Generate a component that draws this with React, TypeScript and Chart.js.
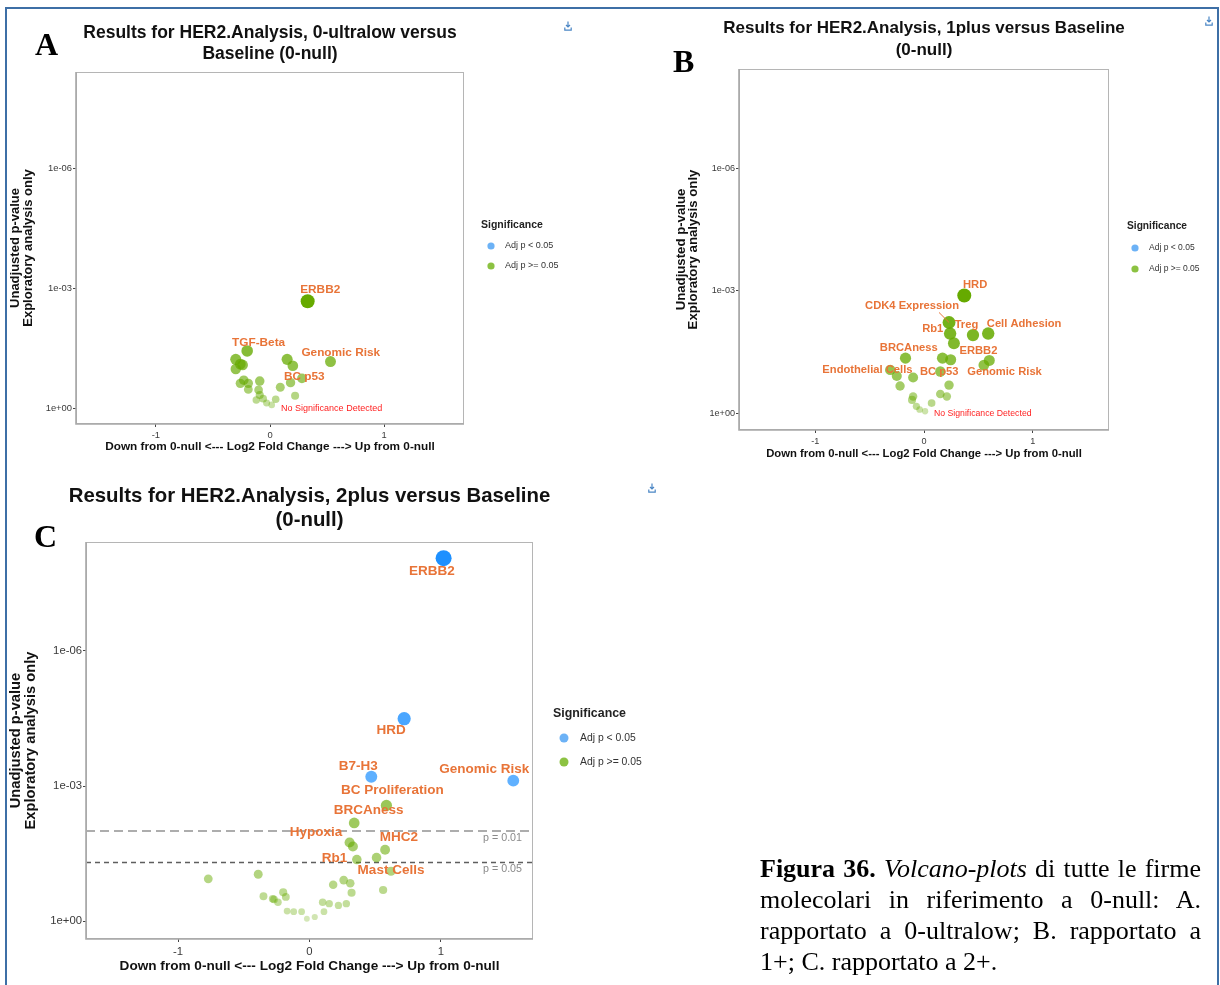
import React, { useEffect, useRef } from 'react';
import { Chart, registerables } from 'chart.js';

Chart.register(...registerables);

const SANS = '"Liberation Sans", Arial, Helvetica, sans-serif';
const SERIF = '"Liberation Serif", "Times New Roman", Times, serif';

// ---------- shared axis content ----------
const xLimits = [-1.7, 1.7];
const pLimits = [2.5, 3.8e-9]; // bottom (least significant) -> top
const xTickValues = [-1, 0, 1];
const xTickLabels = ['-1', '0', '1'];
const yTickValues = [1, 1e-3, 1e-6];
const yTickLabels = ['1e+00', '1e-03', '1e-06'];
const xAxisTitle = 'Down from 0-null <--- Log2 Fold Change ---> Up from 0-null';
const yAxisTitle = ['Unadjusted p-value', 'Exploratory analysis only'];
const legendTitle = 'Significance';
const legendLabels = ['Adj p < 0.05', 'Adj p >= 0.05'];
const noSigText = 'No Significance Detected';
const thresholdP = [0.01, 0.05];
const thresholdLabels = ['p = 0.01', 'p = 0.05'];

// ---------- Panel A : 0-ultralow vs 0-null ----------
const aTitle = ['Results for HER2.Analysis, 0-ultralow versus', 'Baseline (0-null)'];
const aLfc = [0.33, -0.2, -0.3, -0.26, -0.3, -0.24, 0.15, 0.2, 0.53, 0.28, 0.18, 0.09, 0.22, -0.23, -0.19, -0.26, -0.09, -0.19, -0.1, -0.09, -0.06, -0.12, -0.03, 0.015, 0.05];
const aP = [2.1e-3, 0.037, 0.06, 0.079, 0.105, 0.083, 0.06, 0.087, 0.068, 0.18, 0.23, 0.3, 0.49, 0.2, 0.24, 0.24, 0.21, 0.34, 0.35, 0.47, 0.58, 0.63, 0.74, 0.83, 0.6];
const aSig = [0, 0, 0, 0, 0, 0, 0, 0, 0, 0, 0, 0, 0, 0, 0, 0, 0, 0, 0, 0, 0, 0, 0, 0, 0];
const aLabelText = ['ERBB2', 'TGF-Beta', 'Genomic Risk', 'BC p53'];
const aLabelLfc = [0.44, -0.1, 0.62, 0.3];
const aLabelP = [1.1e-3, 0.0224, 0.04, 0.166];
const aNoSigAt = [0.54, 1.0];

// ---------- Panel B : 1plus vs 0-null ----------
const bTitle = ['Results for HER2.Analysis, 1plus versus Baseline', '(0-null)'];
const bLfc = [0.37, 0.23, 0.24, 0.275, 0.45, 0.59, 0.6, 0.55, -0.17, 0.17, 0.245, 0.15, -0.31, -0.25, -0.1, -0.22, 0.23, 0.15, 0.21, -0.1, -0.11, -0.07, 0.01, 0.07, -0.04];
const bP = [1.3e-3, 5.9e-3, 0.011, 0.019, 0.012, 0.011, 0.05, 0.065, 0.044, 0.044, 0.048, 0.093, 0.085, 0.12, 0.13, 0.21, 0.2, 0.33, 0.38, 0.38, 0.46, 0.66, 0.87, 0.55, 0.79];
const bSig = [0, 0, 0, 0, 0, 0, 0, 0, 0, 0, 0, 0, 0, 0, 0, 0, 0, 0, 0, 0, 0, 0, 0, 0, 0];
const bLabelText = ['HRD', 'CDK4 Expression', 'Rb1', 'Treg', 'Cell Adhesion', 'BRCAness', 'ERBB2', 'Endothelial Cells', 'BC p53', 'Genomic Risk'];
const bLabelLfc = [0.47, -0.11, 0.08, 0.39, 0.92, -0.14, 0.5, -0.52, 0.14, 0.74];
const bLabelP = [7.1e-4, 2.3e-3, 8.5e-3, 6.8e-3, 6.5e-3, 0.0245, 0.029, 0.085, 0.095, 0.095];
const bLeaders = [[1, 1]]; // [label index, point index]
const bNoSigAt = [0.54, 1.0];

// ---------- Panel C : 2plus vs 0-null ----------
const cTitle = ['Results for HER2.Analysis, 2plus versus Baseline', '(0-null)'];
const cLfc = [1.02, 0.72, 0.47, 1.55, 0.585, 0.34, 0.305, 0.33, 0.575, 0.51, 0.36, 0.62, -0.77, -0.39, 0.18, 0.26, 0.31, 0.32, 0.56, -0.35, -0.28, -0.27, -0.24, -0.2, -0.18, -0.17, -0.12, -0.06, -0.02, 0.04, 0.11, 0.1, 0.15, 0.22, 0.28];
const cP = [8.7e-9, 3.2e-5, 6.2e-4, 7.6e-4, 2.7e-3, 6.6e-3, 0.018, 0.022, 0.026, 0.039, 0.043, 0.078, 0.115, 0.091, 0.155, 0.123, 0.145, 0.234, 0.204, 0.28, 0.32, 0.33, 0.38, 0.23, 0.29, 0.6, 0.62, 0.62, 0.89, 0.81, 0.62, 0.38, 0.41, 0.45, 0.41];
const cSig = [1, 1, 1, 1, 0, 0, 0, 0, 0, 0, 0, 0, 0, 0, 0, 0, 0, 0, 0, 0, 0, 0, 0, 0, 0, 0, 0, 0, 0, 0, 0, 0, 0, 0, 0];
const cLabelText = ['ERBB2', 'HRD', 'B7-H3', 'Genomic Risk', 'BC Proliferation', 'BRCAness', 'Hypoxia', 'MHC2', 'Rb1', 'Mast Cells'];
const cLabelLfc = [0.93, 0.62, 0.37, 1.33, 0.63, 0.45, 0.05, 0.68, 0.19, 0.62];
const cLabelP = [1.66e-8, 5.9e-5, 3.7e-4, 4.3e-4, 1.26e-3, 3.5e-3, 0.0107, 0.0138, 0.041, 0.074];

// ---------- styling / layout (page pixel coordinates) ----------
const GREEN = [102, 170, 0];
const BLUE = [30, 144, 255];
const LEGEND_BLUE = 'rgb(108,178,246)';
const LEGEND_GREEN = 'rgb(140,194,66)';
const LABEL_ORANGE = '#e87438';

type Layout = {
  box: { x: number; y: number; w: number; h: number };
  plot: { l: number; t: number; r: number; b: number };
  title: { size: number; y: number[] };
  yTitle: { size: number; lh: number; x: number };
  xTitle: { size: number; y: number };
  tickSize: number;
  labelSize: number;
  noSigSize: number;
  legend: { x: number; y: number; titleSize: number; dotX: number; dotY: number[]; r: number; textX: number; textSize: number };
  rMax: number;
  thrSize: number;
};

const layoutA: Layout = {
  box: { x: 0, y: 0, w: 600, h: 470 },
  plot: { l: 76, t: 72, r: 464, b: 424 },
  title: { size: 17.5, y: [33, 54] },
  yTitle: { size: 13, lh: 13, x: 15 },
  xTitle: { size: 11.8, y: 447 },
  tickSize: 9.4,
  labelSize: 11.8,
  noSigSize: 9,
  legend: { x: 481, y: 225, titleSize: 10.5, dotX: 491, dotY: [246, 266], r: 3.6, textX: 505, textSize: 9 },
  rMax: 7,
  thrSize: 10,
};

const layoutB: Layout = {
  box: { x: 600, y: 0, w: 620, h: 470 },
  plot: { l: 739, t: 69, r: 1109, b: 430 },
  title: { size: 17, y: [28, 50] },
  yTitle: { size: 13.2, lh: 12, x: 681 },
  xTitle: { size: 11.3, y: 454 },
  tickSize: 9.1,
  labelSize: 11.2,
  noSigSize: 8.7,
  legend: { x: 1127, y: 226, titleSize: 10.2, dotX: 1135, dotY: [248, 269], r: 3.6, textX: 1149, textSize: 8.5 },
  rMax: 7,
  thrSize: 10,
};

const layoutC: Layout = {
  box: { x: 0, y: 470, w: 700, h: 515 },
  plot: { l: 86, t: 542, r: 533, b: 939 },
  title: { size: 20.4, y: [496, 520] },
  yTitle: { size: 14.7, lh: 15.5, x: 15.8 },
  xTitle: { size: 13.6, y: 966 },
  tickSize: 11.3,
  labelSize: 13.5,
  noSigSize: 10,
  legend: { x: 553, y: 714, titleSize: 12.4, dotX: 564, dotY: [738, 762], r: 4.5, textX: 580, textSize: 10.4 },
  rMax: 8,
  thrSize: 10.7,
};

type PanelProps = {
  L: Layout;
  title: string[];
  lfc: number[];
  p: number[];
  sig: number[];
  labelText: string[];
  labelLfc: number[];
  labelP: number[];
  leaders?: number[][];
  noSigAt?: number[];
  thresholds?: boolean;
};

function rgba(c: number[], a: number) {
  return `rgba(${c[0]},${c[1]},${c[2]},${a.toFixed(3)})`;
}

function Volcano(props: PanelProps) {
  const ref = useRef<HTMLCanvasElement>(null);
  const { L } = props;

  useEffect(() => {
    const canvas = ref.current;
    if (!canvas) return;
    const { box, plot } = L;

    const yLH = L.yTitle.lh;
    const yScaleLeft = L.yTitle.x - yLH / 2;
    const padLeft = yScaleLeft - box.x;
    const yW = plot.l - yScaleLeft;
    const xLH = L.xTitle.size * 1.2;
    const xScaleBottom = L.xTitle.y + xLH / 2;
    const xH = xScaleBottom - plot.b;
    const padBottom = box.y + box.h - xScaleBottom;
    const padTop = plot.t - box.y;
    const padRight = box.x + box.w - plot.r;

    const maxS = Math.max(...props.p.map((v) => -Math.log10(v)));
    const frac = (pv: number) => Math.sqrt(Math.max(0, -Math.log10(pv)) / maxS);
    const radius = (pv: number) => 2.5 + (L.rMax - 2.5) * frac(pv);
    const alpha = (pv: number) => 0.22 + 0.78 * frac(pv);

    const greenPts: { x: number; y: number }[] = [];
    const bluePts: { x: number; y: number }[] = [];
    props.lfc.forEach((x, i) => {
      (props.sig[i] ? bluePts : greenPts).push({ x, y: props.p[i] });
    });

    const ds = (pts: { x: number; y: number }[], col: number[], label: string) => ({
      label,
      data: pts,
      pointRadius: (c: any) => radius(c.raw ? c.raw.y : 1),
      pointBackgroundColor: (c: any) => rgba(col, alpha(c.raw ? c.raw.y : 1)),
      pointBorderWidth: 0,
      pointBorderColor: 'rgba(0,0,0,0)',
      pointHoverRadius: 0,
    });

    const fnt = (size: number, bold = false) => `${bold ? 'bold ' : ''}${size}px ${SANS}`;
    const lx = (px: number) => px - box.x;
    const ly = (py: number) => py - box.y;

    const decor = {
      id: 'decor',
      beforeDatasetsDraw(chart: any) {
        if (!props.thresholds) return;
        const ctx = chart.ctx;
        const a = chart.chartArea;
        const ys = chart.scales.y;
        thresholdP.forEach((tp, i) => {
          const y = ys.getPixelForValue(tp);
          ctx.save();
          ctx.beginPath();
          ctx.setLineDash(i === 0 ? [9, 5] : [5, 4]);
          ctx.strokeStyle = i === 0 ? '#adadad' : '#5e5e5e';
          ctx.lineWidth = i === 0 ? 2 : 1.5;
          ctx.moveTo(a.left, y);
          ctx.lineTo(a.right, y);
          ctx.stroke();
          ctx.setLineDash([]);
          ctx.font = fnt(L.thrSize);
          ctx.fillStyle = '#8a8a8a';
          ctx.textAlign = 'right';
          ctx.textBaseline = 'middle';
          ctx.fillText(thresholdLabels[i], a.right - 11, y + 7);
          ctx.restore();
        });
      },
      afterDatasetsDraw(chart: any) {
        const ctx = chart.ctx;
        const a = chart.chartArea;
        const xs = chart.scales.x;
        const ys = chart.scales.y;
        ctx.save();
        ctx.font = fnt(L.labelSize, true);
        ctx.fillStyle = LABEL_ORANGE;
        ctx.textAlign = 'center';
        ctx.textBaseline = 'middle';
        props.labelText.forEach((t, i) => {
          ctx.fillText(t, xs.getPixelForValue(props.labelLfc[i]), ys.getPixelForValue(props.labelP[i]));
        });
        (props.leaders || []).forEach(([li, pi]) => {
          const tx = xs.getPixelForValue(props.labelLfc[li]);
          const ty = ys.getPixelForValue(props.labelP[li]);
          const w = ctx.measureText(props.labelText[li]).width;
          const sx = tx + w / 2 - 20;
          const sy = ty + L.labelSize * 0.6;
          const px = xs.getPixelForValue(props.lfc[pi]);
          const py = ys.getPixelForValue(props.p[pi]);
          ctx.beginPath();
          ctx.strokeStyle = LABEL_ORANGE;
          ctx.lineWidth = 1;
          ctx.moveTo(sx, sy);
          ctx.lineTo(px, py);
          ctx.stroke();
        });
        if (props.noSigAt) {
          ctx.font = fnt(L.noSigSize);
          ctx.fillStyle = '#ff1f1f';
          ctx.fillText(noSigText, xs.getPixelForValue(props.noSigAt[0]), ys.getPixelForValue(props.noSigAt[1]));
        }
        ctx.strokeStyle = '#b5b5b5';
        ctx.lineWidth = 1;
        ctx.strokeRect(a.left + 0.5, a.top + 0.5, a.right - a.left - 1, a.bottom - a.top - 1);
        ctx.strokeStyle = '#a8a8a8';
        ctx.lineWidth = 1.6;
        ctx.beginPath();
        ctx.moveTo(a.left, a.top);
        ctx.lineTo(a.left, a.bottom);
        ctx.lineTo(a.right, a.bottom);
        ctx.stroke();
        ctx.restore();
      },
      afterDraw(chart: any) {
        const ctx = chart.ctx;
        const a = chart.chartArea;
        ctx.save();
        ctx.font = fnt(L.title.size, true);
        ctx.fillStyle = '#111';
        ctx.textAlign = 'center';
        ctx.textBaseline = 'middle';
        const cx = (a.left + a.right) / 2;
        props.title.forEach((t, i) => ctx.fillText(t, cx, ly(L.title.y[i])));
        const lg = L.legend;
        ctx.textAlign = 'left';
        ctx.font = fnt(lg.titleSize, true);
        ctx.fillStyle = '#222';
        ctx.fillText(legendTitle, lx(lg.x), ly(lg.y));
        [LEGEND_BLUE, LEGEND_GREEN].forEach((col, i) => {
          ctx.beginPath();
          ctx.fillStyle = col;
          ctx.arc(lx(lg.dotX), ly(lg.dotY[i]), lg.r, 0, Math.PI * 2);
          ctx.fill();
          ctx.font = fnt(lg.textSize);
          ctx.fillStyle = '#333';
          ctx.fillText(legendLabels[i], lx(lg.textX), ly(lg.dotY[i]));
        });
        ctx.restore();
      },
    };

    const tickLookupX = (v: any) => {
      const i = xTickValues.indexOf(Number(v));
      return i >= 0 ? xTickLabels[i] : '';
    };
    const tickLookupY = (v: any) => {
      const i = yTickValues.findIndex((t) => Math.abs(Math.log10(t) - Math.log10(Number(v))) < 1e-6);
      return i >= 0 ? yTickLabels[i] : '';
    };

    const chart = new Chart(canvas, {
      type: 'scatter',
      data: {
        datasets: [ds(greenPts, GREEN, legendLabels[1]), ds(bluePts, BLUE, legendLabels[0])] as any,
      },
      options: {
        animation: false,
        responsive: false,
        maintainAspectRatio: false,
        devicePixelRatio: 1,
        events: [],
        layout: { padding: { left: padLeft, right: padRight, top: padTop, bottom: padBottom } },
        plugins: {
          legend: { display: false },
          title: { display: false },
          tooltip: { enabled: false },
        },
        scales: {
          x: {
            type: 'linear',
            position: 'bottom',
            min: xLimits[0],
            max: xLimits[1],
            afterBuildTicks: (s: any) => {
              s.ticks = xTickValues.map((v) => ({ value: v }));
            },
            afterFit: (s: any) => {
              s.height = xH;
            },
            ticks: {
              callback: tickLookupX,
              font: { family: SANS, size: L.tickSize },
              color: '#3a3a3a',
              padding: 3,
              maxRotation: 0,
              autoSkip: false,
            },
            grid: { display: true, drawOnChartArea: false, drawTicks: true, tickLength: 3, tickColor: '#444', color: '#444' },
            border: { display: false },
            title: {
              display: true,
              text: xAxisTitle,
              color: '#111',
              padding: 0,
              font: { family: SANS, size: L.xTitle.size, weight: 'bold', lineHeight: 1.2 },
            },
          },
          y: {
            type: 'logarithmic',
            position: 'left',
            reverse: true,
            min: pLimits[1],
            max: pLimits[0],
            afterBuildTicks: (s: any) => {
              s.ticks = yTickValues.map((v) => ({ value: v }));
            },
            afterFit: (s: any) => {
              s.width = yW;
            },
            ticks: {
              callback: tickLookupY,
              font: { family: SANS, size: L.tickSize },
              color: '#3a3a3a',
              padding: 1,
              autoSkip: false,
            },
            grid: { display: true, drawOnChartArea: false, drawTicks: true, tickLength: 3, tickColor: '#444', color: '#444' },
            border: { display: false },
            title: {
              display: true,
              text: yAxisTitle,
              color: '#111',
              padding: 0,
              font: { family: SANS, size: L.yTitle.size, weight: 'bold', lineHeight: yLH / L.yTitle.size },
            },
          },
        },
      } as any,
      plugins: [decor],
    });
    return () => chart.destroy();
  }, []);

  return (
    <canvas
      ref={ref}
      width={L.box.w}
      height={L.box.h}
      style={{ position: 'absolute', left: L.box.x, top: L.box.y, width: L.box.w, height: L.box.h }}
    />
  );
}

function DownloadIcon({ left, top }: { left: number; top: number }) {
  return (
    <svg width="8" height="10" viewBox="0 0 8 10" style={{ position: 'absolute', left, top }}>
      <path d="M4 0.5 V6 M2 4 L4 6 L6 4" stroke="#4a86c5" strokeWidth="1.2" fill="none" />
      <path d="M0.8 6.5 V9.2 H7.2 V6.5" stroke="#4a86c5" strokeWidth="1.2" fill="none" />
    </svg>
  );
}

const letterStyle = (left: number, top: number): React.CSSProperties => ({
  position: 'absolute',
  left,
  top,
  fontFamily: SERIF,
  fontWeight: 'bold',
  fontSize: 32,
  lineHeight: '32px',
  color: '#000',
});

export default function App() {
  return (
    <div style={{ position: 'fixed', left: 0, top: 0, width: 1220, height: 985, overflow: 'hidden', background: '#fff' }}>
      <Volcano L={layoutA} title={aTitle} lfc={aLfc} p={aP} sig={aSig} labelText={aLabelText} labelLfc={aLabelLfc} labelP={aLabelP} noSigAt={aNoSigAt} />
      <Volcano L={layoutB} title={bTitle} lfc={bLfc} p={bP} sig={bSig} labelText={bLabelText} labelLfc={bLabelLfc} labelP={bLabelP} leaders={bLeaders} noSigAt={bNoSigAt} />
      <Volcano L={layoutC} title={cTitle} lfc={cLfc} p={cP} sig={cSig} labelText={cLabelText} labelLfc={cLabelLfc} labelP={cLabelP} thresholds />
      <div
        style={{
          position: 'absolute',
          left: 5,
          top: 7,
          width: 1214,
          height: 1000,
          borderTop: '2px solid #3e6fa6',
          borderLeft: '2px solid #3e6fa6',
          borderRight: '2px solid #3e6fa6',
          boxSizing: 'border-box',
          pointerEvents: 'none',
        }}
      />
      <div style={letterStyle(35, 28)}>A</div>
      <div style={letterStyle(673, 45)}>B</div>
      <div style={letterStyle(34, 520)}>C</div>
      <DownloadIcon left={564} top={21} />
      <DownloadIcon left={1205} top={16} />
      <DownloadIcon left={648} top={483} />
      <div
        style={{
          position: 'absolute',
          left: 760,
          top: 853,
          width: 441,
          fontFamily: SERIF,
          fontSize: 26,
          lineHeight: '31px',
          textAlign: 'justify',
          color: '#000',
        }}
      >
        <b>Figura 36.</b> <i>Volcano-plots</i> di tutte le firme molecolari in riferimento a 0-null: A. rapportato a 0-ultralow; B. rapportato a 1+; C. rapportato a 2+.
      </div>
    </div>
  );
}
